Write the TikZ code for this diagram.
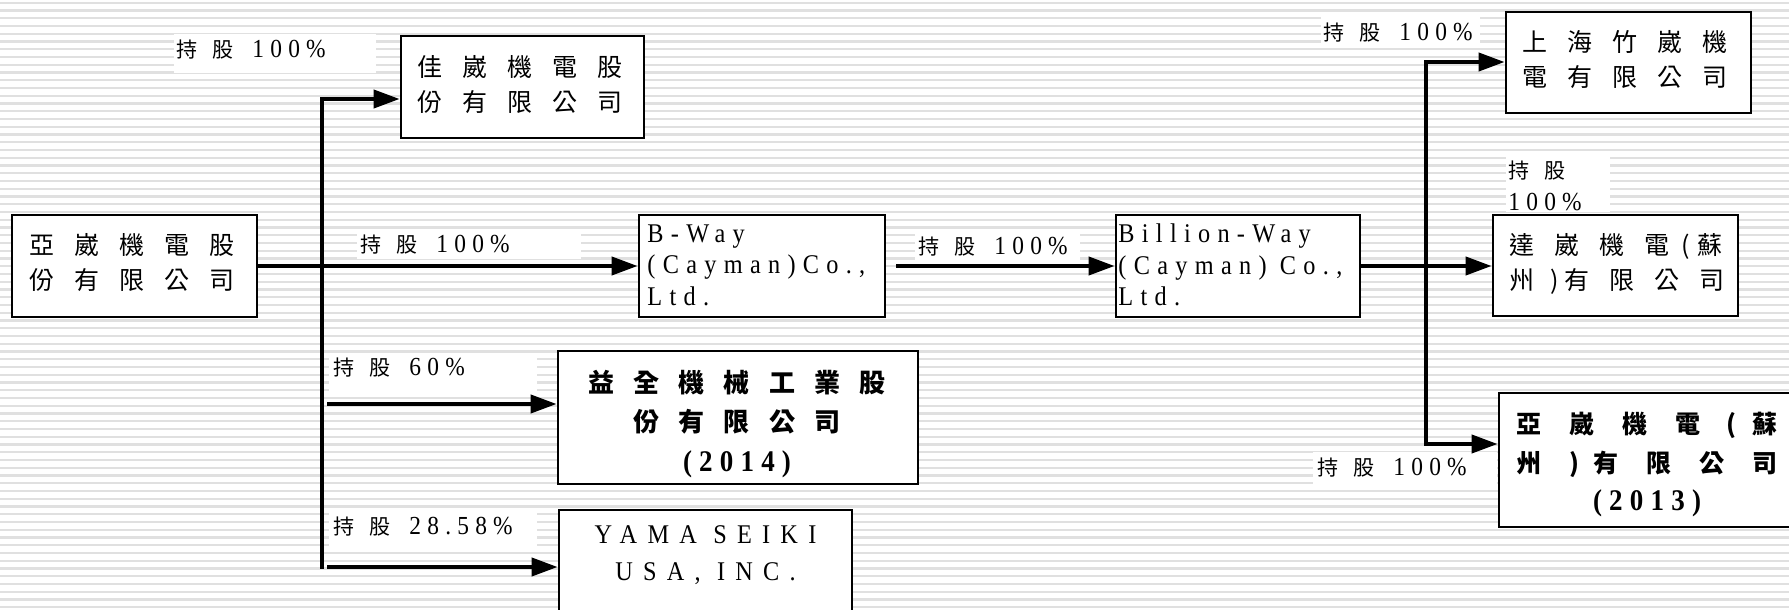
\documentclass[tikz,border=0pt]{standalone}
\usepackage{fontspec}
\setmainfont{Liberation Serif}
\newfontfamily\cjk{Noto Sans CJK TC}
\newfontfamily\latA{Liberation Serif}[FakeStretch=0.9,LetterSpace=24]
\newfontfamily\latB{Liberation Serif}[FakeStretch=0.9,LetterSpace=27]
\newfontfamily\latC{Liberation Serif}[FakeStretch=0.9,LetterSpace=38]
\usetikzlibrary{arrows.meta,fit}
\newcommand\ga{\hspace{10pt}}
\newcommand\gb{\hspace{9.65pt}}
\newcommand\gc{\hspace{14pt}}
\newcommand\lbl[1]{{\cjk\fontsize{10.5}{14}\selectfont 持\hspace{7.5pt}股}\hspace{9.5pt}{\latA\fontsize{13}{16}\selectfont #1}}
\tikzset{
  box/.style={draw=black, line width=1.4pt, fill=white, inner sep=0pt},
  txt/.style={inner sep=0pt, anchor=west, align=left},
  ctxt/.style={inner sep=0pt, anchor=center, align=center},
  conn/.style={line width=2pt, line cap=rect, -{Triangle[length=13pt,width=9pt]}},
  trunk/.style={line width=2pt, line cap=rect},
  stripe/.style={line width=1.1pt, color=black!12},
  lblbg/.style={fill=white},
  cjkreg/.style={font=\cjk\fontsize{12.5}{17.5}\selectfont},
  latbox/.style={font=\latB\fontsize{13.5}{15.75}\selectfont},
}
\begin{document}
\begin{tikzpicture}[x=0.5pt,y=-0.5pt]
\useasboundingbox (0,0) rectangle (1789,610);
\clip (0,0) rectangle (1789,610);
\fill[white] (0,0) rectangle (1789,610);
\foreach \i in {0,...,79} \draw[stripe] (0,{2.7+7.75*\i}) -- (1789,{2.7+7.75*\i});

% label backgrounds
\fill[lblbg] (174,34) rectangle (376,73);
\fill[lblbg] (357,231) rectangle (581,259);
\fill[lblbg] (915,233) rectangle (1080,261);
\fill[lblbg] (1321,15) rectangle (1480,48);
\fill[lblbg] (1506,155) rectangle (1610,212);
\fill[lblbg] (1313,452) rectangle (1497,484);
\fill[lblbg] (329,355) rectangle (537,395);
\fill[lblbg] (329,510) rectangle (537,550);

% boxes
\node[box, fit={(12,215) (257,317)}] (A) {};
\node[box, fit={(401,36) (644,138)}] (J) {};
\node[box, fit={(639,215) (885,317)}] (BW) {};
\node[box, fit={(1116,215) (1360,317)}] (BL) {};
\node[box, fit={(1506,12) (1751,113)}] (SH) {};
\node[box, fit={(1493,215) (1738,316)}] (DW) {};
\node[box, fit={(1499,393) (1805,527)}] (SZ) {};
\node[box, fit={(558,351) (918,484)}] (YQ) {};
\node[box, fit={(559,510) (852,640)}] (YM) {};

% box texts
\node[txt, cjkreg] (At) at (29,262.5) {亞\ga 崴\ga 機\ga 電\ga 股\\份\ga 有\ga 限\ga 公\ga 司};
\node[txt, cjkreg] (Jt) at (417,84.5) {佳\ga 崴\ga 機\ga 電\ga 股\\份\ga 有\ga 限\ga 公\ga 司};
\node[txt, latbox] (BWt) at (647,265) {B-Way\\(Cayman)Co.,\\Ltd.};
\node[txt, latbox] (BLt) at (1118,265) {Billion-Way\\(Cayman) Co.,\\Ltd.};
\node[txt, cjkreg] (SHt) at (1522,59.5) {上\ga 海\ga 竹\ga 崴\ga 機\\電\ga 有\ga 限\ga 公\ga 司};
\node[txt, cjkreg] (DWt) at (1509,263.5) {達\ga 崴\ga 機\ga 電\hspace{6pt}(\hspace{4pt}蘇\\州\hspace{8pt})\hspace{3pt}有\ga 限\ga 公\ga 司};
\node[ctxt, font=\cjk\bfseries\fontsize{12.5}{19.25}\selectfont] (SZt) at (1647,465)
  {亞\gc 崴\gc 機\gc 電\hspace{12.75pt}(\hspace{8.25pt}蘇\\州\gc )\hspace{6.75pt}有\gc 限\gc 公\gc 司\\{\latA\bfseries\fontsize{15}{19.25}\selectfont (2013)}};
\node[ctxt, font=\cjk\bfseries\fontsize{13}{19.75}\selectfont] (YQt) at (737,424)
  {益\gb 全\gb 機\gb 械\gb 工\gb 業\gb 股\\份\gb 有\gb 限\gb 公\gb 司\\{\latA\bfseries\fontsize{15}{19.75}\selectfont (2014)}};
\node[ctxt, font=\latC\fontsize{13.5}{18.5}\selectfont] (YMt) at (705.5,555.5) {YAMA SEIKI\\USA, INC.};

% labels
\node[txt] (L1) at (176,50) {\lbl{100\%}};
\node[txt] (L2) at (360,245) {\lbl{100\%}};
\node[txt] (L3) at (918,247) {\lbl{100\%}};
\node[txt] (L4) at (1323,33) {\lbl{100\%}};
\node[txt, font=\fontsize{10.5}{16}\selectfont] (L5) at (1508,186) {{\cjk 持\hspace{7.5pt}股}\\{\latA\fontsize{13}{16}\selectfont 100\%}};
\node[txt] (L6) at (1317,468) {\lbl{100\%}};
\node[txt] (L7) at (333,368) {\lbl{60\%}};
\node[txt] (L8) at (333,527) {\lbl{28.58\%}};

% connector points
\coordinate (T1top) at (322,99);
\coordinate (T1bot) at (322,567);
\coordinate (b60) at (329,404);
\coordinate (b28) at (329,567);
\coordinate (bwout) at (898,266);
\coordinate (T2top) at (1426,62);
\coordinate (T2bot) at (1426,444);

% connectors
\draw[trunk] (T1top) -- (T1bot);
\draw[conn] (T1top) -- (T1top -| J.west);
\draw[conn] (A.east) -- (BW.west);
\draw[conn] (b60) -- (b60 -| YQ.west);
\draw[conn] (b28) -- (b28 -| YM.west);
\draw[conn] (bwout) -- (BL.west);
\draw[conn] (BL.east) -- (BL.east -| DW.west);
\draw[trunk] (T2top) -- (T2bot);
\draw[conn] (T2top) -- (T2top -| SH.west);
\draw[conn] (T2bot) -- (T2bot -| SZ.west);
\end{tikzpicture}
\end{document}
